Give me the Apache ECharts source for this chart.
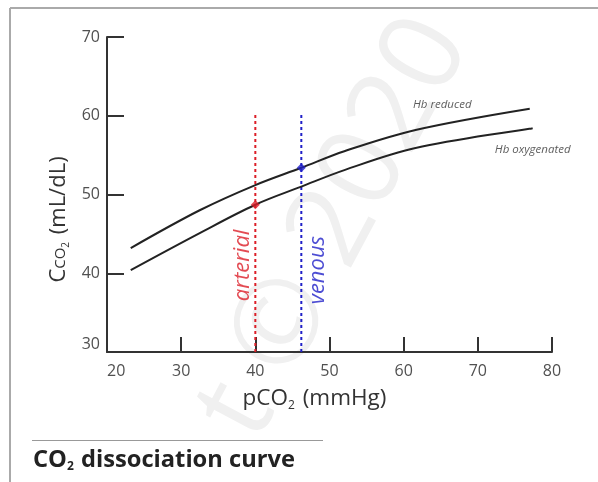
<!DOCTYPE html>
<html>
<head>
<meta charset="utf-8">
<script src="https://cdn.jsdelivr.net/npm/echarts@6/dist/echarts.min.js"></script>
<style>
html,body{margin:0;padding:0;background:#fff;}
#chart{width:598px;height:482px;}
</style>
</head>
<body>
<div id="chart"></div>
<script>
// ---- data ----
const xTicks = [20, 30, 40, 50, 60, 70, 80];
const yTicks = [30, 40, 50, 60, 70];
const reducedX = [23.2, 32.5, 40, 46.2, 52, 61.6, 77.0];
const hbReduced = [43.2, 48.0, 51.2, 53.4, 55.5, 58.2, 60.9];
const oxyX = [23.2, 32.5, 40, 46.2, 52, 61.6, 77.4];
const hbOxygenated = [40.4, 45.1, 48.7, 51.0, 53.1, 55.9, 58.4];
const arterialPoint = [40, 48.7];
const venousPoint = [46.2, 53.4];
const arterialLine = [[40, 30], [40, 60.1]];
const venousLine = [[46.2, 30], [46.2, 60.3]];
const annotations = [
  { text: 'arterial', pos: [38.3, 41.0] },
  { text: 'venous', pos: [48.4, 40.4] },
  { text: 'Hb reduced', pos: [65.2, 61.4] },
  { text: 'Hb oxygenated', pos: [77.4, 55.65] }
];

const chart = echarts.init(document.getElementById('chart'));
const FONT = '"Open Sans", "Noto Sans", sans-serif';
const RED = '#dc1e28';
const BLUE = '#2020c8';

function zip(xs, ys) { return xs.map((x, i) => [x, ys[i]]); }

const annStyles = [
  { color: RED, fontSize: 22, rotate: 90 },
  { color: BLUE, fontSize: 22, rotate: 90 },
  { color: '#333', fontSize: 11.5, rotate: 0 },
  { color: '#333', fontSize: 11.5, rotate: 0 }
];

chart.setOption({
  animation: false,
  backgroundColor: '#fff',
  grid: { left: 107, right: 46, top: 37, bottom: 130, containLabel: false },
  xAxis: {
    type: 'value', min: xTicks[0], max: xTicks[xTicks.length - 1], interval: 10,
    name: 'pCO{sub|2} (mmHg)',
    nameLocation: 'middle', nameGap: 34,
    nameTextStyle: {
      fontFamily: FONT, fontSize: 22.5, color: '#333', padding: [0, 30, 0, 0],
      rich: { sub: { fontFamily: FONT, fontSize: 12, color: '#333', padding: [14, 2, 0, 0] } }
    },
    axisLine: { lineStyle: { color: '#333', width: 2 } },
    axisTick: { inside: true, length: 15, lineStyle: { color: '#333', width: 2 } },
    axisLabel: { fontFamily: FONT, fontSize: 16, color: '#505050', margin: 11, alignMinLabel: 'left' },
    splitLine: { show: false }
  },
  yAxis: {
    type: 'value', min: yTicks[0], max: yTicks[yTicks.length - 1], interval: 10,
    name: 'C{co|CO}{sub|2} (mL/dL)',
    nameLocation: 'middle', nameGap: 28, nameRotate: 90,
    nameTextStyle: {
      fontFamily: FONT, fontSize: 22, color: '#333', padding: [0, 50, 0, 0],
      rich: {
        co: { fontFamily: FONT, fontSize: 15, color: '#333', padding: [4, 0, 0, 0] },
        sub: { fontFamily: FONT, fontSize: 10, color: '#333', padding: [14, 2, 0, 0] }
      }
    },
    axisLine: { lineStyle: { color: '#333', width: 2 } },
    axisTick: { inside: true, length: 17, lineStyle: { color: '#333', width: 2 } },
    axisLabel: { fontFamily: FONT, fontSize: 16, color: '#505050', margin: 7, verticalAlignMinLabel: 'bottom' },
    splitLine: { show: false }
  },
  graphic: [
    { type: 'text', z: -10, silent: true, x: 335, y: 228, rotation: 62 * Math.PI / 180,
      style: { text: 't © 2020', fontFamily: FONT, fontSize: 114, fill: '#f0f0f0', align: 'center', verticalAlign: 'middle' } },
    { type: 'line', silent: true, shape: { x1: 10, y1: 8, x2: 598, y2: 8 }, style: { stroke: '#aaa', lineWidth: 2 } },
    { type: 'line', silent: true, shape: { x1: 10, y1: 8, x2: 10, y2: 482 }, style: { stroke: '#aaa', lineWidth: 2 } },
    { type: 'line', silent: true, shape: { x1: 32, y1: 440.5, x2: 323, y2: 440.5 }, style: { stroke: '#999', lineWidth: 1 } },
    { type: 'text', silent: true, x: 33, y: 460,
      style: {
        text: 'CO{sub|2} dissociation curve', fontFamily: FONT, fontSize: 23.7, fontWeight: 'bold', fill: '#222',
        verticalAlign: 'middle',
        rich: { sub: { fontFamily: FONT, fontSize: 12, fontWeight: 'bold', fill: '#222', padding: [14, 1, 0, 0] } }
      } }
  ],
  series: [
    { type: 'line', name: 'Hb reduced', data: zip(reducedX, hbReduced), smooth: 0.35, symbol: 'none',
      lineStyle: { color: '#222', width: 2 }, z: 3 },
    { type: 'line', name: 'Hb oxygenated', data: zip(oxyX, hbOxygenated), smooth: 0.35, symbol: 'none',
      lineStyle: { color: '#222', width: 2 }, z: 3 },
    { type: 'line', name: 'arterial line', data: arterialLine, symbol: 'none',
      lineStyle: { color: RED, width: 2, type: [3, 3] }, z: 2 },
    { type: 'line', name: 'venous line', data: venousLine, symbol: 'none',
      lineStyle: { color: BLUE, width: 2, type: [3, 3] }, z: 2 },
    { type: 'scatter', name: 'arterial', data: [arterialPoint], symbol: 'diamond', symbolSize: 9,
      itemStyle: { color: RED }, z: 4 },
    { type: 'scatter', name: 'venous', data: [venousPoint], symbol: 'diamond', symbolSize: 9,
      itemStyle: { color: BLUE }, z: 4 },
    { type: 'scatter', name: 'annotations', symbolSize: 0, z: 5, silent: true,
      data: annotations.map((a, i) => ({
        value: a.pos,
        label: {
          show: true, position: 'inside', formatter: a.text, rotate: annStyles[i].rotate,
          fontFamily: FONT, fontStyle: 'italic', fontSize: annStyles[i].fontSize, color: annStyles[i].color,
          align: 'center', verticalAlign: 'middle'
        }
      }))
    }
  ]
});
</script>
</body>
</html>
